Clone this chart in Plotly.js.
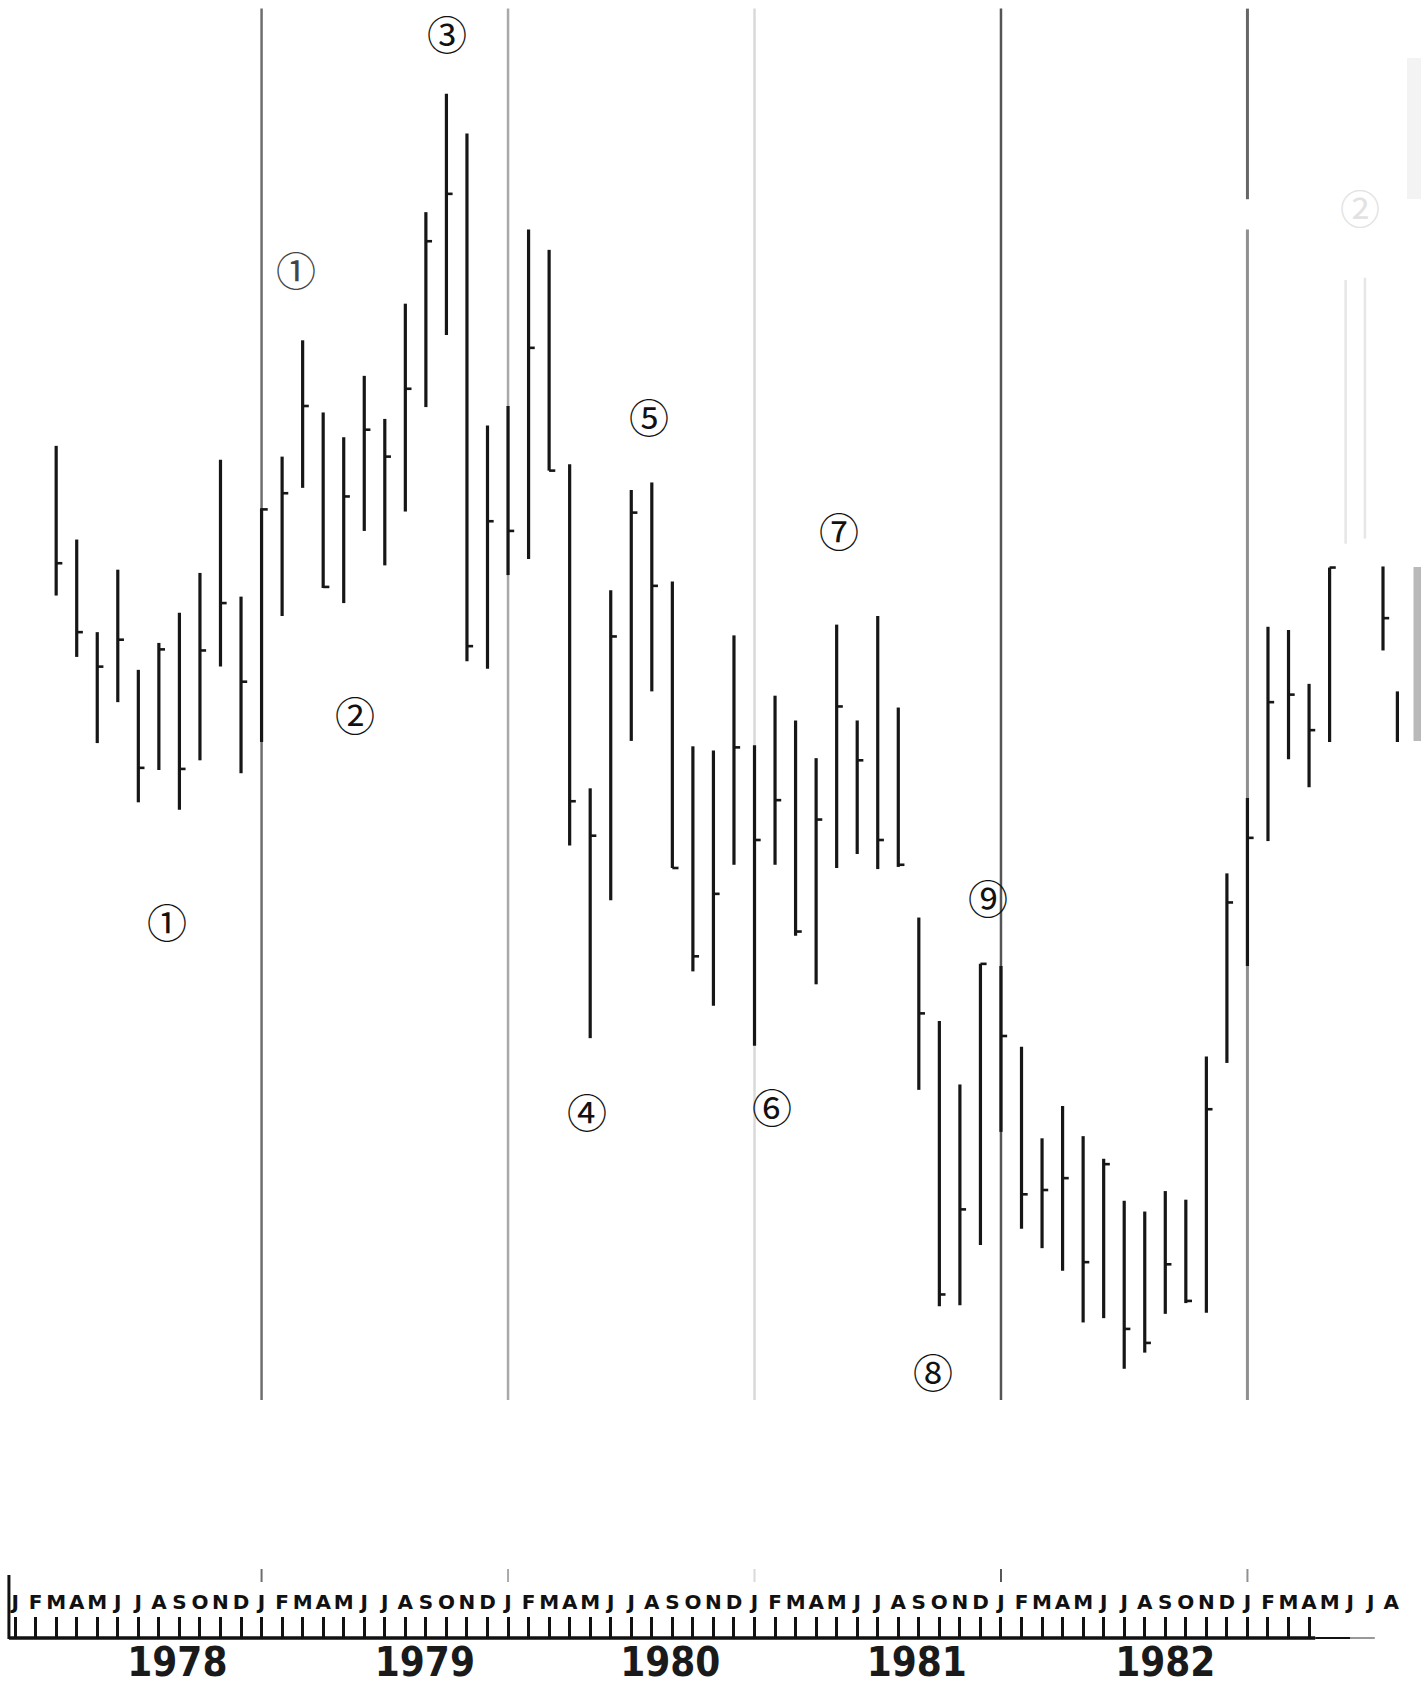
<!DOCTYPE html>
<html>
<head>
<meta charset="utf-8">
<script src="https://cdn.plot.ly/plotly-3.0.1.min.js"></script>
<style>html,body{margin:0;padding:0;background:#fff;}#chart{width:1421px;height:1688px;}</style>
</head>
<body>
<div id="chart"></div>
<script>
// ---------- DATA ----------
const months = [
  '1978-03','1978-04','1978-05','1978-06','1978-07','1978-08','1978-09','1978-10','1978-11','1978-12',
  '1979-01','1979-02','1979-03','1979-04','1979-05','1979-06','1979-07','1979-08','1979-09','1979-10','1979-11','1979-12',
  '1980-01','1980-02','1980-03','1980-04','1980-05','1980-06','1980-07','1980-08','1980-09','1980-10','1980-11','1980-12',
  '1981-01','1981-02','1981-03','1981-04','1981-05','1981-06','1981-07','1981-08','1981-09','1981-10','1981-11','1981-12',
  '1982-01','1982-02','1982-03','1982-04','1982-05','1982-06','1982-07','1982-08','1982-09','1982-10','1982-11','1982-12',
  '1983-01','1983-02','1983-03','1983-04','1983-05'
];
const high = [
  88.6,79.9,71.3,77.1,67.8,70.3,73.1,76.8,87.3,74.6,
  82.8,87.6,98.4,91.7,89.4,95.1,91.1,101.8,110.3,121.3,117.6,90.5,
  92.3,108.7,106.8,86.9,56.8,75.2,84.5,85.2,76.0,60.7,60.3,71.0,
  60.8,65.4,63.1,59.6,72.0,63.1,72.8,64.3,44.8,35.2,29.3,40.5,
  40.3,32.8,24.3,27.3,24.5,22.4,18.5,17.5,19.4,18.6,31.9,48.9,
  55.9,71.8,71.5,66.5,77.3
];
const low = [
  74.7,69.0,61.0,64.8,55.5,58.5,54.8,59.4,68.1,58.2,
  61.1,72.8,84.7,75.4,74.0,80.7,77.5,82.5,92.2,98.9,68.6,67.9,
  76.6,78.1,86.3,51.5,33.6,46.4,61.2,65.8,49.4,39.8,36.6,49.7,
  32.9,49.7,43.1,38.6,49.4,50.7,49.3,49.5,28.8,8.7,8.8,14.4,
  24.9,15.9,14.1,12.0,7.2,7.6,2.9,4.4,8.0,9.0,8.1,31.3,
  40.3,51.9,59.5,56.9,61.1
];
const close = [
  77.7,71.3,68.1,70.6,58.7,69.7,58.6,69.6,74.0,66.7,
  82.7,84.2,92.3,75.5,83.9,90.1,87.6,93.9,107.6,112.0,70.0,81.6,
  80.7,97.7,86.3,55.6,52.4,70.9,82.4,75.6,49.4,41.2,47.0,60.6,
  52.0,55.7,43.5,53.9,64.4,59.4,52.0,49.7,35.9,9.8,17.7,40.5,
  33.8,19.1,19.5,20.6,12.8,21.9,6.6,5.3,12.6,9.2,27.0,46.2,
  52.2,64.8,65.5,62.2,77.3
];
// torn-off fragment at the right edge of the page (month-axis positions)
const fragX = [66.6, 67.3];
const fragHigh = [77.4, 65.8];
const fragLow = [69.6, 61.1];
const fragClose = [72.6, null];
// faint show-through marks
const ghostX = [64.78, 65.72];
const ghostHigh = [104.0, 104.2];
const ghostLow = [79.5, 80.0];

// axis labels
const monthLetters = ['J','F','M','A','M','J','J','A','S','O','N','D'];
const years = ['1978','1979','1980','1981','1982','1983'];
const yearLabelPos = [7.9, 19.95, 31.9, 43.9, 56.0, 67.9];
const yearLineYears = ['1979','1980','1981','1982','1983'];

// wave-count labels
const waveText = ['①','①','②','③','④','⑤','⑥','⑦','⑧','⑨','②'];
const waveX = [7.39, 13.68, 16.56, 21.01, 27.83, 30.87, 36.84, 40.09, 44.70, 47.38, 65.46];
const waveY = [44.5, 105.0, 63.7, 126.9, 26.8, 91.4, 27.3, 80.8, 2.7, 46.7, 110.8];

// ---------- STYLES ----------
const BAR = '#161616';
const yearLineColors = ['#6e6e6e', '#a9a9a9', '#d9d9d9', '#555555', '#909090'];
const waveColors = ['#111','#444','#111','#111','#111','#111','#111','#111','#111','#111','#e2e2e2'];

function monthIndex(s) {
  const p = s.split('-').map(Number);
  return (p[0] - 1978) * 12 + (p[1] - 1);
}
const xs = months.map(monthIndex);
const XR = [-0.735, 68.45];

// vertical high-low lines
const vx = [], vy = [];
xs.forEach((x, i) => { vx.push(x, x, null); vy.push(low[i], high[i], null); });
fragX.forEach((x, i) => { vx.push(x, x, null); vy.push(fragLow[i], fragHigh[i], null); });
// close ticks
const cx = [], cy = [];
xs.forEach((x, i) => { cx.push(x, x + 0.3, null); cy.push(close[i], close[i], null); });
fragX.forEach((x, i) => { if (fragClose[i] != null) { cx.push(x, x + 0.3, null); cy.push(fragClose[i], fragClose[i], null); } });
// ghost lines
const gx = [], gy = [];
ghostX.forEach((x, i) => { gx.push(x, x, null); gy.push(ghostLow[i], ghostHigh[i], null); });

// month tick positions/labels
const tickPos = [], tickText = [];
for (let m = 0; m <= 63; m++) { tickPos.push(m); tickText.push(monthLetters[m % 12]); }
const extraPos = [], extraText = [];
for (let m = 64; m <= 67; m++) { extraPos.push(m); extraText.push(monthLetters[m % 12]); }

const yearText = years.map((y, i) => i === years.length - 1 ? '<span style="color:#dcdcdc">' + y + '</span>' : y);

const traces = [
  {x: gx, y: gy, mode: 'lines', line: {color: '#e6e6e6', width: 2.5}, hoverinfo: 'skip', xaxis: 'x', yaxis: 'y'},
  {x: vx, y: vy, mode: 'lines', line: {color: BAR, width: 3.2}, hoverinfo: 'skip', xaxis: 'x', yaxis: 'y'},
  {x: cx, y: cy, mode: 'lines', line: {color: BAR, width: 2.6}, hoverinfo: 'skip', xaxis: 'x', yaxis: 'y'},
  {x: [0], y: [0], mode: 'markers', marker: {opacity: 0}, hoverinfo: 'skip', xaxis: 'x2', yaxis: 'y'},
  {x: [0], y: [0], mode: 'markers', marker: {opacity: 0}, hoverinfo: 'skip', xaxis: 'x3', yaxis: 'y'},
  {x: [0], y: [0], mode: 'markers', marker: {opacity: 0}, hoverinfo: 'skip', xaxis: 'x4', yaxis: 'y'}
];

// shapes
const H = 1688;
const py = p => 1 - p / H;
const shapes = [];
yearLineYears.forEach((yr, i) => {
  const x = (Number(yr) - 1978) * 12;
  if (yr === '1983') {
    shapes.push({type: 'line', xref: 'x', yref: 'y', x0: x, x1: x, y0: 111.5, y1: 129.2, line: {color: '#666', width: 3}, layer: 'below'});
    shapes.push({type: 'line', xref: 'x', yref: 'y', x0: x, x1: x, y0: 0, y1: 108.7, line: {color: yearLineColors[i], width: 3}, layer: 'below'});
  } else {
    shapes.push({type: 'line', xref: 'x', yref: 'y', x0: x, x1: x, y0: 0, y1: 129.2, line: {color: yearLineColors[i], width: 2.5}, layer: 'below'});
  }
  // small marker above the time axis
  shapes.push({type: 'line', xref: 'x', yref: 'paper', x0: x, x1: x, y0: py(1582), y1: py(1569), line: {color: yearLineColors[i], width: 2}});
});
// axis baseline and start bar
shapes.push({type: 'line', xref: 'x', yref: 'paper', x0: -0.3, x1: 63.3, y0: py(1638), y1: py(1638), line: {color: '#111', width: 3.5}});
shapes.push({type: 'line', xref: 'x', yref: 'paper', x0: 63.3, x1: 65.0, y0: py(1638), y1: py(1638), line: {color: '#111', width: 2}});
shapes.push({type: 'line', xref: 'x', yref: 'paper', x0: 65.0, x1: 66.2, y0: py(1638), y1: py(1638), line: {color: '#333', width: 1}});
shapes.push({type: 'line', xref: 'x', yref: 'paper', x0: -0.3, x1: -0.3, y0: py(1639), y1: py(1575), line: {color: '#111', width: 3}});
// torn edge of the page
shapes.push({type: 'rect', xref: 'paper', yref: 'paper', x0: 1413.5 / 1421, x1: 1, y0: py(741), y1: py(567), fillcolor: '#b9b9b9', line: {width: 0}});
shapes.push({type: 'rect', xref: 'paper', yref: 'paper', x0: 1407 / 1421, x1: 1, y0: py(199), y1: py(58), fillcolor: '#f3f3f3', line: {width: 0}, layer: 'below'});

const annotations = waveText.map((t, i) => ({
  x: waveX[i], y: waveY[i], xref: 'x', yref: 'y', text: t, showarrow: false,
  height: 44, valign: 'middle',
  font: {family: 'Noto Sans CJK JP, DejaVu Sans', size: 40, color: waveColors[i]}
}));

const axisFont = 'DejaVu Sans, sans-serif';
const yearFont = 'DejaVu Sans Condensed, DejaVu Sans, sans-serif';
const layout = {
  width: 1421, height: 1688,
  margin: {l: 0, r: 0, t: 0, b: 0, pad: 0},
  paper_bgcolor: '#ffffff', plot_bgcolor: '#ffffff',
  showlegend: false,
  xaxis: {range: XR, visible: false, fixedrange: true},
  yaxis: {domain: [py(1400), 1], range: [0, 130], visible: false, fixedrange: true},
  xaxis2: {
    overlaying: 'x', anchor: 'free', position: py(1638), side: 'top', range: XR,
    tickmode: 'array', tickvals: tickPos, ticktext: tickText, tickangle: 0,
    ticks: 'outside', ticklen: 21, tickwidth: 3, tickcolor: '#111',
    tickfont: {family: axisFont, size: 20, color: '#111', weight: 'bold'},
    showgrid: false, zeroline: false, showline: false, fixedrange: true
  },
  xaxis4: {
    overlaying: 'x', anchor: 'free', position: py(1638), side: 'top', range: XR,
    tickmode: 'array', tickvals: extraPos, ticktext: extraText, tickangle: 0,
    ticks: 'outside', ticklen: 21, tickwidth: 1, tickcolor: 'rgba(0,0,0,0)',
    tickfont: {family: axisFont, size: 20, color: '#111', weight: 'bold'},
    showgrid: false, zeroline: false, showline: false, fixedrange: true
  },
  xaxis3: {
    overlaying: 'x', anchor: 'free', position: py(1635), side: 'bottom', range: XR,
    tickmode: 'array', tickvals: yearLabelPos, ticktext: yearText, tickangle: 0,
    ticks: '', ticklen: 0,
    tickfont: {family: yearFont, size: 40, color: '#1a1a1a', weight: 'bold'},
    showgrid: false, zeroline: false, showline: false, fixedrange: true
  },
  shapes: shapes,
  annotations: annotations
};

Plotly.newPlot('chart', traces, layout, {staticPlot: true, displayModeBar: false});
</script>
</body>
</html>
